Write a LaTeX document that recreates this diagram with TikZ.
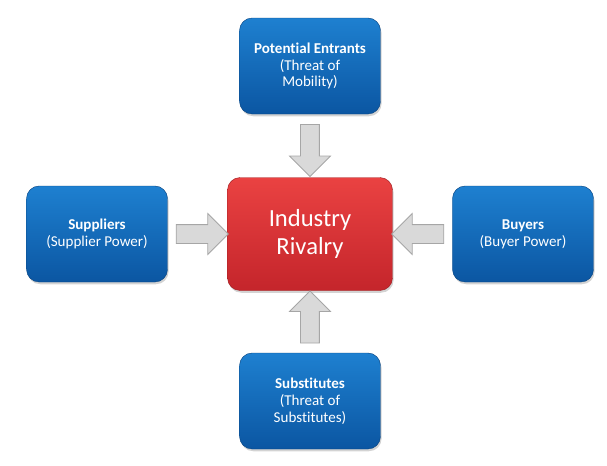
\documentclass[tikz,border=0pt]{standalone}
\usepackage{fontspec}
\setmainfont[Ligatures=NoCommon]{Carlito}
\usepackage{tikz}
\usetikzlibrary{shapes.arrows,shadows,calc}

\definecolor{blueTop}{HTML}{1E80D0}
\definecolor{blueBot}{HTML}{0B56A2}
\definecolor{redTop}{HTML}{EA4242}
\definecolor{redBot}{HTML}{C4252B}
\definecolor{arrowFill}{HTML}{D9D9D9}
\definecolor{arrowLine}{HTML}{A6A6A6}

\begin{document}
\begin{tikzpicture}
    \tikzset{force/.style = {draw=blueBot!80!black, line width=0.3pt, rounded corners=9pt,
        top color=blueTop, bottom color=blueBot, text=white, align=center,
        minimum width=3.525cm, minimum height=2.4cm,
        font=\fontsize{10.7}{12}\selectfont,
        drop shadow={shadow xshift=0.8pt, shadow yshift=-1.6pt, opacity=0.35}}}
    \tikzset{rivalry/.style = {force, draw=redBot!80!black, top color=redTop, bottom color=redBot,
        minimum width=4.125cm, minimum height=2.825cm,
        font=\fontsize{17.5}{20}\selectfont}}
    \tikzset{push/.style = {single arrow, draw=arrowLine, fill=arrowFill, line width=0.6pt,
        inner sep=0.225cm, single arrow head extend=0.275cm, minimum height=1.3cm}}
    \useasboundingbox (-7.75,-5.775) rectangle (7.425,5.85);
    % forces
    \node[rivalry] (IR) at (0,0) {Industry\\Rivalry};
    \node[force] (PE) at (0,4.2) {\textbf{Potential Entrants}\\(Threat of\\Mobility)};
    \node[force] (SU) at (-5.325,0) {\textbf{Suppliers}\\(Supplier Power)};
    \node[force] (BU) at (5.325,0) {\textbf{Buyers}\\(Buyer Power)};
    \node[force] (SB) at (0,-4.175) {\textbf{Substitutes}\\(Threat of\\Substitutes)};
    % arrows
    \node[push, rotate=-90] (a1) at ($(PE.south)!0.5!(IR.north)$) {};
    \node[push] (a2) at ($(SU.east)!0.5!(IR.west)$) {};
    \node[push, rotate=180] (a3) at ($(BU.west)!0.5!(IR.east)$) {};
    \node[push, rotate=90] (a4) at ($(SB.north)!0.5!(IR.south)$) {};
\end{tikzpicture}
\end{document}
